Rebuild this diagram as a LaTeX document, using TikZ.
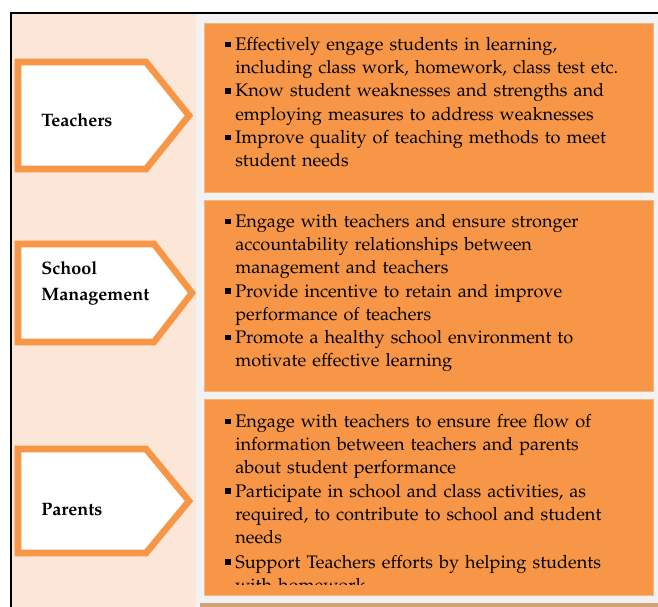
\documentclass[tikz,border=0pt]{standalone}
\usepackage[T1]{fontenc}
\usepackage{mathpazo}
\definecolor{accent}{HTML}{F79646}
\definecolor{peach}{HTML}{FCE6D8}
\definecolor{paper}{HTML}{F2F2F2}
\definecolor{tan}{HTML}{D2A175}
% bullet with hanging indent
\newcommand{\bul}{\strut\makebox[7.5pt][l]{\rule[0.18em]{0.3em}{0.3em}}}
\newcommand{\hang}{\hspace*{7.5pt}}
\begin{document}
\begin{tikzpicture}[x=0.75pt, y=-0.75pt,
  tag/.style={draw=accent, fill=white, line width=4.9pt, miter limit=10},
  actbox/.style={fill=accent, draw=accent!70, line width=0.5pt},
  label/.style={font=\fontsize{13.5}{19.5}\selectfont\bfseries, inner sep=0pt,
                anchor=north west, align=left},
  duties/.style={font=\fontsize{13.6}{17.4}\selectfont, inner sep=0pt,
                 anchor=north west, align=left, text width=420pt}
]
  \useasboundingbox (0,0) rectangle (658,607);

  % Backgrounds
  \fill[peach] (11,13) rectangle (196,607);
  \fill[paper] (196,13) rectangle (658,607);
  \fill[tan] (200,603) rectangle (658,607);
  \draw[line width=1.5pt] (11,607) -- (11,13) -- (658,13);

  % Actor tags
  \draw[tag] (18,62) -- (146,62) -- (189,115.5) -- (146,169) -- (18,169) -- cycle;
  \draw[tag] (18,244) -- (154,244) -- (192,293) -- (154,342) -- (18,342) -- cycle;
  \draw[tag] (18,449) -- (146,449) -- (189,501) -- (146,553) -- (18,553) -- cycle;

  \node[label] (teachers) at (41,108.5) {\strut Teachers};
  \node[label] (mgmt) at (41,255.8) {\strut School\\Management};
  \node[label] (parents) at (41,496.8) {\strut Parents};

  % Duty boxes
  \fill[actbox] (204,23) rectangle (653,192);
  \fill[actbox] (204,200) rectangle (653,391);
  \fill[actbox] (204,399) rectangle (653,595);

  \node[duties] (tduties) at (225,34) {%
    \bul Effectively engage students in learning,\\
    \hang including class work, homework, class test etc.\\
    \bul Know student weaknesses and strengths and\\
    \hang employing measures to address weaknesses\\
    \bul Improve quality of teaching methods to meet\\
    \hang student needs};

  \node[duties] (mduties) at (225,211) {%
    \bul Engage with teachers and ensure stronger\\
    \hang accountability relationships between\\
    \hang management and teachers\\
    \bul Provide incentive to retain and improve\\
    \hang performance of teachers\\
    \bul Promote a healthy school environment to\\
    \hang motivate effective learning};

  \begin{scope}
    \clip (204,399) rectangle (653,584);
    \node[duties] (pduties) at (225,411) {%
      \bul Engage with teachers to ensure free flow of\\
      \hang information between teachers and parents\\
      \hang about student performance\\
      \bul Participate in school and class activities, as\\
      \hang required, to contribute to school and student\\
      \hang needs\\[1pt]
      \bul Support Teachers efforts by helping students\\
      \hang with homework};
  \end{scope}
\end{tikzpicture}
\end{document}
